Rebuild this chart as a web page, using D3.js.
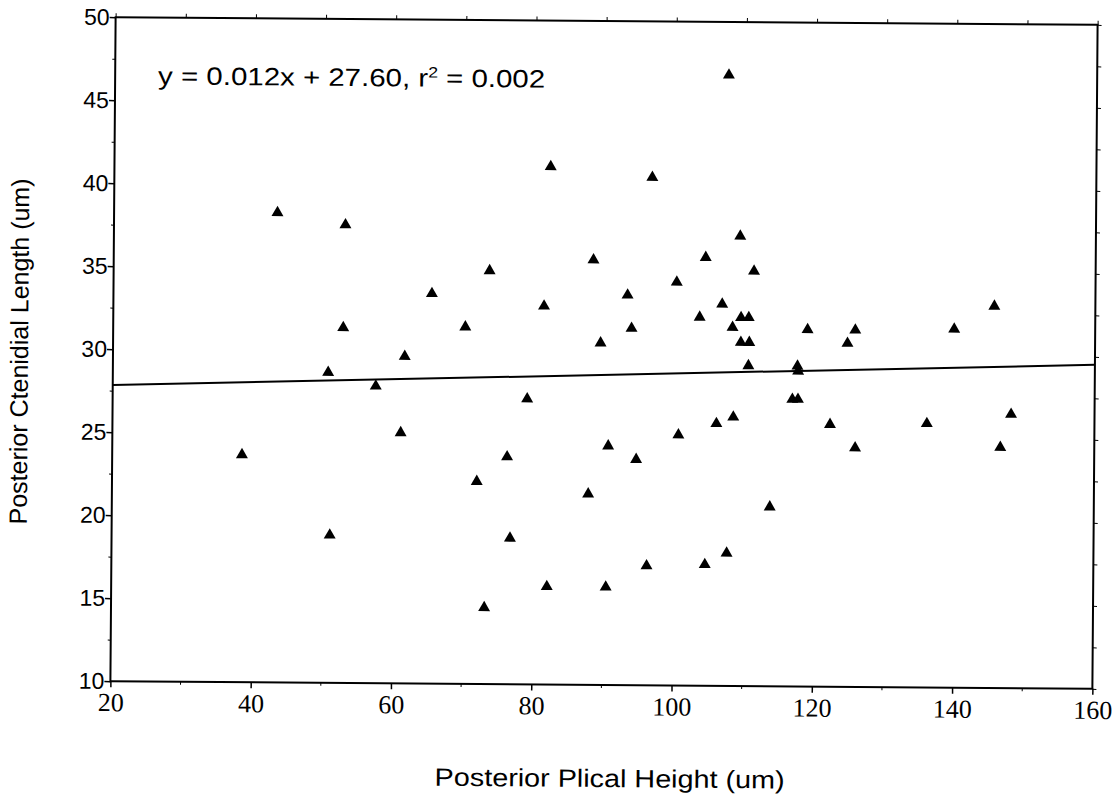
<!DOCTYPE html>
<html>
<head>
<meta charset="utf-8">
<script src="https://cdn.jsdelivr.net/npm/d3@7"></script>
<style>
  body { margin: 0; background: #fff; }
</style>
</head>
<body>
<div id="chart"></div>
<script>
// data
const plicalHeight = [
  38.5, 43.3, 50.7, 51.1, 52.8, 53.0, 57.5, 61.1, 61.6, 65.4,
  70.2, 72.0, 73.2, 73.6, 76.3, 76.8, 79.1, 81.4, 82.1, 82.2,
  87.9, 88.4, 89.5, 90.5, 90.7, 93.3, 93.9, 94.7, 96.3, 96.7,
  100.3, 100.7, 103.6, 104.4, 104.6, 106.1, 106.8, 107.7, 108.3, 108.5,
  109.3, 109.5, 109.5, 110.6, 110.7, 110.6, 111.3, 113.8, 107.5, 116.9,
  117.7, 117.6, 117.7, 119.0, 122.3, 124.7, 125.8, 125.9, 136.1, 139.9,
  145.6, 146.6, 148.1
];
const ctenidialLength = [
  23.7, 38.3, 28.7, 18.9, 31.4, 37.6, 27.9, 25.1, 29.7, 33.5,
  31.5, 22.2, 14.6, 34.9, 23.7, 18.8, 27.2, 32.8, 15.9, 41.2,
  21.5, 35.6, 30.6, 15.9, 24.4, 33.5, 31.5, 23.6, 17.2, 40.6,
  34.3, 25.1, 32.2, 35.8, 17.3, 25.8, 33.0, 18.0, 31.6, 26.2,
  37.1, 32.2, 30.7, 32.2, 30.7, 29.3, 35.0, 20.8, 46.8, 27.3,
  27.3, 29.3, 29.0, 31.5, 25.8, 30.7, 31.5, 24.4, 25.9, 31.6,
  33.0, 24.5, 26.5
];
const xTicks = [20, 40, 60, 80, 100, 120, 140, 160];
const yTicks = [10, 15, 20, 25, 30, 35, 40, 45, 50];
const slope = 0.012;
const intercept = 27.60;

const width = 1118;
const height = 801;
const margin = { top: 21, right: 23, bottom: 116, left: 113 };

const svg = d3
  .select("#chart")
  .append("svg")
  .attr("width", width)
  .attr("height", height);

// the scan is tilted a little
const g = svg.append("g").attr("transform", "rotate(0.45, 604, 353)");

const x = d3.scaleLinear().domain([20, 160]).range([margin.left, width - margin.right]);
const y = d3.scaleLinear().domain([10, 50]).range([height - margin.bottom, margin.top]);

//frame
g.append("rect")
  .attr("x", x(20))
  .attr("y", y(50))
  .attr("width", x(160) - x(20))
  .attr("height", y(10) - y(50))
  .attr("fill", "none")
  .attr("stroke", "#000")
  .attr("stroke-width", 2);

//bottom axis
const xAxis = d3.axisBottom(x).tickValues(xTicks).tickSize(6).tickFormat(d3.format("d"));
g.append("g")
  .attr("transform", `translate(0, ${y(10)})`)
  .call(xAxis)
  .call((a) => a.select(".domain").remove())
  .call((a) => a.selectAll("line").attr("stroke-width", 1.5))
  .call((a) =>
    a.selectAll("text")
      .attr("dy", 0)
      .attr("y", 30)
      .style("font-family", "'Liberation Serif', 'Times New Roman', serif")
      .style("font-size", "26px")
      .attr("fill", "#000")
  );

//minor ticks bottom / top
const xMinor = d3.range(30, 160, 20);
g.append("g")
  .selectAll("line")
  .data(xMinor)
  .join("line")
  .attr("x1", (d) => x(d))
  .attr("x2", (d) => x(d))
  .attr("y1", y(10))
  .attr("y2", y(10) + 3)
  .attr("stroke", "#000");

g.append("g")
  .attr("transform", `translate(0, ${y(50)})`)
  .call(d3.axisTop(x).tickValues(d3.range(20, 161, 10)).tickSize(4).tickFormat(""))
  .call((a) => a.select(".domain").remove());

//left axis
const yAxis = d3.axisLeft(y).tickValues(yTicks).tickSize(6);
g.append("g")
  .attr("transform", `translate(${x(20)}, 0)`)
  .call(yAxis)
  .call((a) => a.select(".domain").remove())
  .call((a) => a.selectAll("line").attr("stroke-width", 1.5))
  .call((a) =>
    a.selectAll("text")
      .attr("x", -6)
      .style("font-family", "'Liberation Sans', Arial, sans-serif")
      .style("font-size", "23px")
      .attr("fill", "#000")
  );

g.append("g")
  .attr("transform", `translate(${x(20)}, 0)`)
  .call(d3.axisLeft(y).tickValues(d3.range(12.5, 50, 5)).tickSize(3).tickFormat(""))
  .call((a) => a.select(".domain").remove());

//right axis
g.append("g")
  .attr("transform", `translate(${x(160)}, 0)`)
  .call(d3.axisRight(y).tickValues(d3.range(10, 50.1, 2.5)).tickSize(4).tickFormat(""))
  .call((a) => a.select(".domain").remove());

//regression line
const lineFunc = d3
  .line()
  .x((d) => x(d))
  .y((d) => y(slope * d + intercept));

g.append("path")
  .attr("d", lineFunc([20, 160]))
  .attr("fill", "none")
  .attr("stroke", "#000")
  .attr("stroke-width", 2);

//points
const points = plicalHeight.map((v, i) => ({ x: v, y: ctenidialLength[i] }));
g.selectAll(".pt")
  .data(points)
  .join("path")
  .attr("class", "pt")
  .attr("d", d3.symbol().type(d3.symbolTriangle).size(62))
  .attr("transform", (d) => `translate(${x(d.x)}, ${y(d.y)})`)
  .attr("fill", "#000");

//equation
const eq = g.append("text")
  .attr("x", 156)
  .attr("y", 88)
  .attr("textLength", 387)
  .attr("lengthAdjust", "spacingAndGlyphs")
  .style("font-family", "'Liberation Sans', Arial, sans-serif")
  .style("font-size", "25px")
  .attr("fill", "#000");
eq.append("tspan").text("y = 0.012x + 27.60, r");
eq.append("tspan").attr("dy", -9).style("font-size", "15px").text("2");
eq.append("tspan").attr("dy", 9).text(" = 0.002");

//y axis label
g.append("g")
  .attr("transform", `translate(28, ${356})`)
  .append("text")
  .attr("text-anchor", "middle")
  .attr("transform", "rotate(-90)")
  .style("font-family", "'Liberation Sans', Arial, sans-serif")
  .style("font-size", "25px")
  .attr("fill", "#000")
  .text("Posterior Ctenidial Length (um)");

//x axis label
g.append("text")
  .attr("text-anchor", "middle")
  .attr("x", 613)
  .attr("y", 787)
  .attr("textLength", 350)
  .attr("lengthAdjust", "spacingAndGlyphs")
  .style("font-family", "'Liberation Sans', Arial, sans-serif")
  .style("font-size", "25px")
  .attr("fill", "#000")
  .text("Posterior Plical Height (um)");
</script>
</body>
</html>
